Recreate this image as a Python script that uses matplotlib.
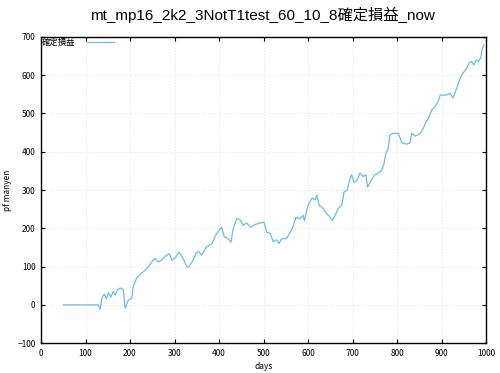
import matplotlib
matplotlib.use("Agg")
import matplotlib.pyplot as plt

plt.rcParams['font.family'] = ['Noto Sans CJK JP', 'DejaVu Sans']

title = "mt_mp16_2k2_3NotT1test_60_10_8確定損益_now"
series_label = "確定損益"
x_label = "days"
y_label = "pf manyen"

days = [50, 128, 133, 137, 142, 147, 152, 157, 162, 167, 172, 178, 185, 189, 196, 204, 207, 215,
        226, 232, 241, 249, 256, 263, 270, 278, 288, 294, 302, 310, 319, 328, 333, 342, 348,
        354, 361, 372, 384, 395, 406, 412, 418, 427, 432, 440, 448, 454, 462, 471, 481, 492,
        501, 507, 515, 522, 529, 535, 540, 552, 559, 566, 573, 582, 589, 592, 600, 609, 616,
        620, 625, 634, 641, 649, 655, 661, 668, 676, 681, 688, 693, 698, 703, 710, 717, 724,
        730, 734, 742, 750, 757, 766, 771, 775, 780, 784, 791, 803, 811, 822, 829, 833, 841,
        852, 859, 865, 872, 878, 885, 893, 897, 911, 919, 926, 934, 942, 948, 957, 962, 967,
        973, 978, 983, 988, 991, 995]
values = [0, 0, -11, 18, 28, 16, 32, 20, 35, 26, 40, 44, 40, -9, 12, 18, 47, 70,
          83, 88, 99, 112, 122, 112, 116, 126, 134, 117, 123, 138, 122, 99, 100, 117, 134,
          140, 130, 151, 160, 187, 203, 178, 175, 164, 200, 226, 222, 208, 214, 203, 210, 214,
          216, 190, 187, 165, 170, 160, 172, 174, 187, 203, 229, 225, 234, 220, 261, 279, 274,
          287, 260, 252, 240, 230, 221, 234, 252, 261, 295, 299, 325, 340, 321, 325, 345, 335,
          340, 308, 325, 340, 343, 352, 370, 396, 407, 443, 448, 448, 423, 420, 423, 448, 441,
          448, 461, 478, 490, 509, 517, 533, 548, 548, 553, 540, 566, 592, 605, 619, 632, 636,
          627, 640, 636, 645, 666, 679]

x_ticks = [0, 100, 200, 300, 400, 500, 600, 700, 800, 900, 1000]
y_ticks = [-100, 0, 100, 200, 300, 400, 500, 600, 700]

fig = plt.figure(figsize=(5.0, 3.73), dpi=100)
ax = fig.add_axes([0.082, 0.080, 0.890, 0.821])

ax.plot(days, values, color='#6cbbe6', linewidth=0.9, label=series_label)

ax.set_xlim(0, 1000)
ax.set_ylim(-100, 700)
ax.set_xticks(x_ticks)
ax.set_yticks(y_ticks)
ax.tick_params(direction='in', top=True, right=True, labelsize=6, length=3, width=0.8, pad=4)
ax.grid(True, color='#e2e2e2', linestyle=(0, (1, 2)), linewidth=0.7)
for s in ax.spines.values():
    s.set_linewidth(1.0)
    s.set_color('black')

ax.set_xlabel(x_label, fontsize=6, labelpad=3)
ax.set_ylabel(y_label, fontsize=6, labelpad=4)
fig.suptitle(title, fontsize=11, y=0.982, x=0.525,
             family=['Liberation Sans', 'Noto Sans CJK JP'])

leg = ax.legend(loc='upper left', frameon=False, fontsize=6, handlelength=3.2,
                borderaxespad=0.1, borderpad=0.05, markerfirst=False, handletextpad=1.4)

fig.savefig("out.png", dpi=100)
